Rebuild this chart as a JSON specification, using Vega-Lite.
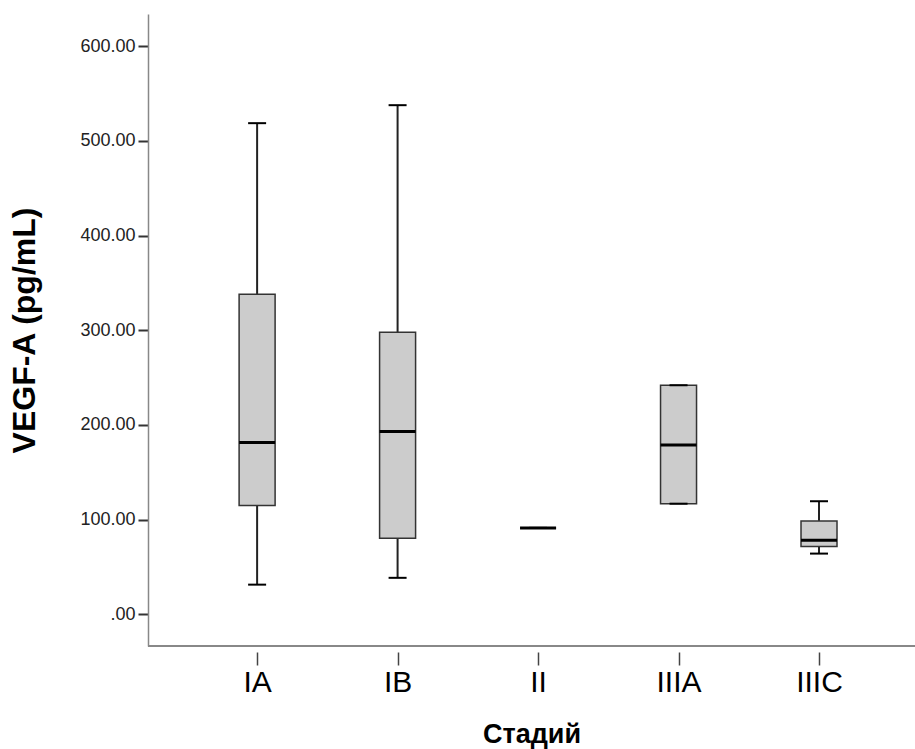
{
  "$schema": "https://vega.github.io/schema/vega-lite/v6.json",
  "width": 767,
  "height": 632,
  "autosize": {"type": "none"},
  "padding": {"left": 148, "top": 14, "right": 0, "bottom": 103},
  "background": "white",
  "config": {
    "view": {"stroke": null},
    "font": "Liberation Sans",
    "axis": {"grid": false, "labelFont": "Liberation Sans", "titleFont": "Liberation Sans"}
  },
  "data": {
    "values": [
      {"stage": "IA", "min": 31.3, "q1": 114.8, "median": 181.5, "q3": 338, "max": 518.7},
      {"stage": "IB", "min": 38.5, "q1": 80.2, "median": 193, "q3": 297.8, "max": 537.7},
      {"stage": "II", "min": 91.2, "q1": 91.2, "median": 91.2, "q3": 91.2, "max": 91.2},
      {"stage": "IIIA", "min": 116.8, "q1": 116.8, "median": 178.9, "q3": 241.9, "max": 241.9},
      {"stage": "IIIC", "min": 64.1, "q1": 71.6, "median": 78.3, "q3": 98.6, "max": 119.4}
    ]
  },
  "layer": [
    {
      "mark": {"type": "rule", "color": "#222222", "strokeWidth": 2},
      "encoding": {
        "x": {
          "field": "stage",
          "type": "nominal",
          "sort": ["IA", "IB", "II", "IIIA", "IIIC"],
          "scale": {"type": "point", "padding": 0.73, "align": 0.532},
          "title": "Стадий",
          "axis": {
            "domain": false,
            "offset": 6,
            "tickSize": 13,
            "tickColor": "#444444",
            "tickWidth": 1.5,
            "labelAngle": 0,
            "labelFontSize": 30,
            "labelColor": "#000000",
            "labelPadding": 2,
            "titleFontSize": 27,
            "titleFontWeight": "bold",
            "titleColor": "#000000",
            "titlePadding": 24
          }
        },
        "y": {
          "field": "min",
          "type": "quantitative",
          "scale": {"domain": [-33.5, 634], "nice": false, "zero": false},
          "title": "VEGF-A (pg/mL)",
          "axis": {
            "values": [0, 100, 200, 300, 400, 500, 600],
            "labelExpr": "datum.value == 0 ? '.00' : format(datum.value, '.2f')",
            "domainColor": "#888888",
            "domainWidth": 1.5,
            "tickColor": "#333333",
            "tickWidth": 2,
            "tickSize": 10,
            "labelFontSize": 18,
            "labelColor": "#222222",
            "labelPadding": 3,
            "titleFontSize": 32,
            "titleFontWeight": "bold",
            "titleColor": "#000000",
            "titlePadding": 38
          }
        },
        "y2": {"field": "q1"}
      }
    },
    {
      "mark": {"type": "rule", "color": "#222222", "strokeWidth": 2},
      "encoding": {
        "x": {"field": "stage", "type": "nominal", "sort": ["IA", "IB", "II", "IIIA", "IIIC"]},
        "y": {"field": "q3", "type": "quantitative"},
        "y2": {"field": "max"}
      }
    },
    {
      "mark": {"type": "bar", "width": 36, "fill": "#cccccc", "stroke": "#333333", "strokeWidth": 1.5},
      "encoding": {
        "x": {"field": "stage", "type": "nominal", "sort": ["IA", "IB", "II", "IIIA", "IIIC"]},
        "y": {"field": "q1", "type": "quantitative"},
        "y2": {"field": "q3"}
      }
    },
    {
      "mark": {"type": "tick", "color": "#000000", "size": 18, "thickness": 2, "opacity": 1},
      "encoding": {
        "x": {"field": "stage", "type": "nominal", "sort": ["IA", "IB", "II", "IIIA", "IIIC"]},
        "y": {"field": "min", "type": "quantitative"}
      }
    },
    {
      "mark": {"type": "tick", "color": "#000000", "size": 18, "thickness": 2, "opacity": 1},
      "encoding": {
        "x": {"field": "stage", "type": "nominal", "sort": ["IA", "IB", "II", "IIIA", "IIIC"]},
        "y": {"field": "max", "type": "quantitative"}
      }
    },
    {
      "mark": {"type": "tick", "color": "#000000", "size": 36, "thickness": 3, "opacity": 1},
      "encoding": {
        "x": {"field": "stage", "type": "nominal", "sort": ["IA", "IB", "II", "IIIA", "IIIC"]},
        "y": {"field": "median", "type": "quantitative"}
      }
    },
    {
      "mark": {"type": "rule", "color": "#888888", "strokeWidth": 1.5},
      "encoding": {"y": {"datum": -33.5, "type": "quantitative"}}
    }
  ]
}
